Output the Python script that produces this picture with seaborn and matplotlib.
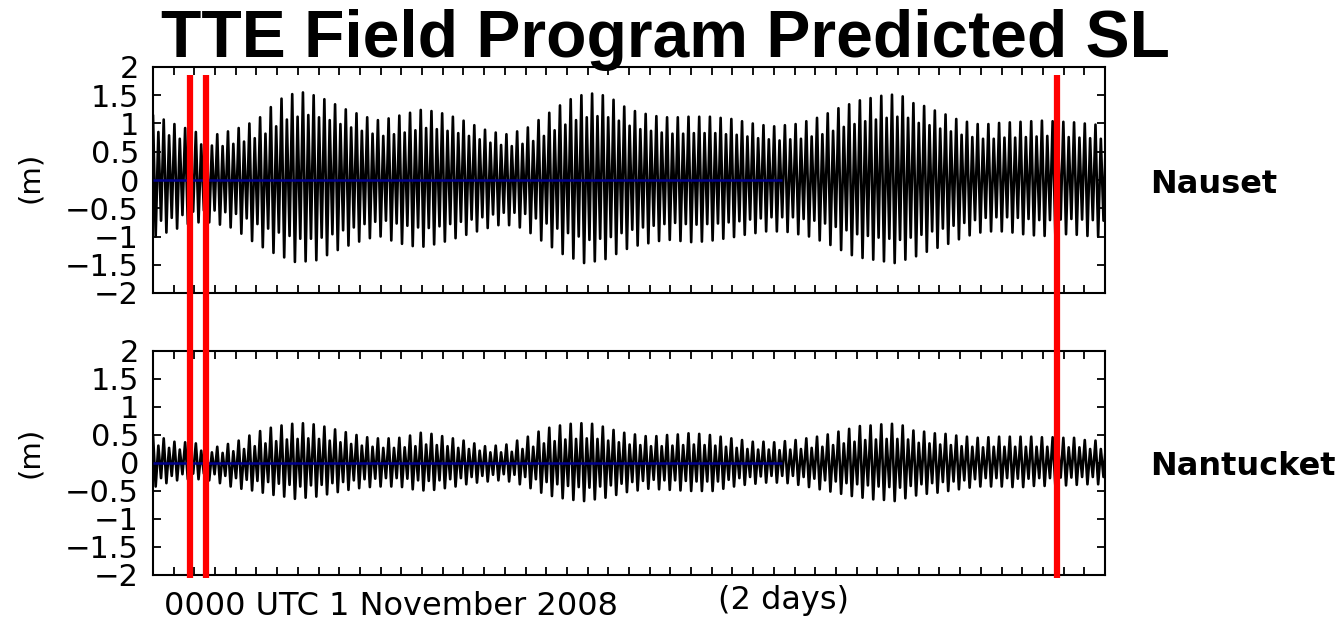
import numpy as np
import pandas as pd
import matplotlib
matplotlib.use("Agg")
import matplotlib.pyplot as plt
from matplotlib import transforms
from matplotlib.lines import Line2D
import seaborn as sns

# ---------------------------------------------------------------------------
# Predicted sea level (m): successive high waters and low waters, one of each
# per semidiurnal tidal cycle, starting 0000 UTC 1 November 2008.
# Highs/lows alternate between the larger and smaller tide of each tidal day.
# ---------------------------------------------------------------------------
tidal_cycle_days = 12.42 / 24.0

nauset_high = [
    1.15, 0.85, 1.07, 0.79, 0.99, 0.73, 0.92, 0.68, 0.85, 0.63,
    0.82, 0.61, 0.81, 0.60, 0.86, 0.64, 0.92, 0.68, 1.00, 0.74,
    1.11, 0.82, 1.29, 0.95, 1.44, 1.07, 1.52, 1.12, 1.55, 1.15,
    1.50, 1.11, 1.43, 1.06, 1.34, 0.99, 1.25, 0.93, 1.18, 0.87,
    1.11, 0.82, 1.06, 0.78, 1.09, 0.81, 1.14, 0.84, 1.19, 0.88,
    1.24, 0.92, 1.22, 0.90, 1.18, 0.87, 1.12, 0.83, 1.05, 0.78,
    0.97, 0.72, 0.89, 0.66, 0.84, 0.62, 0.81, 0.60, 0.86, 0.64,
    0.93, 0.69, 1.06, 0.78, 1.19, 0.88, 1.32, 0.98, 1.43, 1.06,
    1.50, 1.11, 1.53, 1.13, 1.50, 1.11, 1.42, 1.05, 1.30, 0.96,
    1.22, 0.90, 1.17, 0.87, 1.13, 0.84, 1.11, 0.82, 1.11, 0.82,
    1.12, 0.83, 1.12, 0.83, 1.12, 0.83, 1.10, 0.81, 1.08, 0.80,
    1.04, 0.77, 1.00, 0.74, 0.97, 0.72, 0.95, 0.70, 0.97, 0.72,
    0.99, 0.73, 1.04, 0.77, 1.10, 0.81, 1.18, 0.87, 1.27, 0.94,
    1.34, 0.99, 1.41, 1.04, 1.45, 1.07, 1.49, 1.10, 1.51, 1.12,
    1.48, 1.10, 1.36, 1.01, 1.31, 0.97, 1.23, 0.91, 1.16, 0.86,
    1.08, 0.80, 1.03, 0.76, 0.99, 0.73, 0.99, 0.73, 1.01, 0.75,
    1.02, 0.75, 1.03, 0.76, 1.04, 0.77, 1.05, 0.78, 1.04, 0.77,
    1.03, 0.76, 1.02, 0.75, 1.00, 0.74, 0.98, 0.73, 0.95, 0.70]

nauset_low = [
    -1.00, -0.72, -0.93, -0.67, -0.86, -0.62, -0.78, -0.56, -0.75, -0.54,
    -0.75, -0.54, -0.79, -0.57, -0.84, -0.60, -0.95, -0.68, -1.08, -0.78,
    -1.19, -0.86, -1.29, -0.93, -1.37, -0.99, -1.45, -1.04, -1.44, -1.04,
    -1.42, -1.02, -1.33, -0.96, -1.24, -0.89, -1.16, -0.84, -1.09, -0.78,
    -1.03, -0.74, -1.00, -0.72, -1.07, -0.77, -1.13, -0.81, -1.17, -0.84,
    -1.18, -0.85, -1.14, -0.82, -1.09, -0.78, -1.03, -0.74, -0.97, -0.70,
    -0.91, -0.66, -0.85, -0.61, -0.80, -0.58, -0.80, -0.58, -0.84, -0.60,
    -0.94, -0.68, -1.07, -0.77, -1.19, -0.86, -1.31, -0.94, -1.39, -1.00,
    -1.47, -1.06, -1.44, -1.04, -1.40, -1.01, -1.31, -0.94, -1.22, -0.88,
    -1.16, -0.84, -1.12, -0.81, -1.08, -0.78, -1.06, -0.76, -1.08, -0.78,
    -1.10, -0.79, -1.09, -0.78, -1.07, -0.77, -1.04, -0.75, -1.01, -0.73,
    -0.97, -0.70, -0.94, -0.68, -0.91, -0.66, -0.91, -0.66, -0.92, -0.66,
    -0.96, -0.69, -1.00, -0.72, -1.07, -0.77, -1.15, -0.83, -1.24, -0.89,
    -1.33, -0.96, -1.38, -0.99, -1.41, -1.02, -1.44, -1.04, -1.47, -1.06,
    -1.41, -1.02, -1.35, -0.97, -1.27, -0.91, -1.20, -0.86, -1.13, -0.81,
    -1.05, -0.76, -0.98, -0.71, -0.93, -0.67, -0.91, -0.66, -0.91, -0.66,
    -0.93, -0.67, -0.96, -0.69, -0.98, -0.71, -0.99, -0.71, -0.97, -0.70,
    -0.96, -0.69, -0.97, -0.70, -0.99, -0.71, -1.00, -0.72, -1.00, -0.72]

nantucket_high = [
    0.50, 0.31, 0.44, 0.27, 0.38, 0.24, 0.37, 0.23, 0.35, 0.22,
    0.31, 0.19, 0.29, 0.18, 0.34, 0.21, 0.40, 0.25, 0.49, 0.30,
    0.57, 0.35, 0.63, 0.39, 0.67, 0.42, 0.70, 0.43, 0.71, 0.44,
    0.69, 0.43, 0.65, 0.40, 0.60, 0.37, 0.55, 0.34, 0.50, 0.31,
    0.46, 0.29, 0.44, 0.27, 0.44, 0.27, 0.45, 0.28, 0.49, 0.30,
    0.54, 0.33, 0.52, 0.32, 0.48, 0.30, 0.44, 0.27, 0.40, 0.25,
    0.35, 0.22, 0.30, 0.19, 0.31, 0.19, 0.33, 0.20, 0.40, 0.25,
    0.47, 0.29, 0.56, 0.35, 0.63, 0.39, 0.67, 0.42, 0.70, 0.43,
    0.71, 0.44, 0.70, 0.43, 0.65, 0.40, 0.59, 0.37, 0.54, 0.33,
    0.51, 0.32, 0.48, 0.30, 0.48, 0.30, 0.50, 0.31, 0.51, 0.32,
    0.53, 0.33, 0.52, 0.32, 0.50, 0.31, 0.47, 0.29, 0.44, 0.27,
    0.41, 0.25, 0.38, 0.24, 0.38, 0.24, 0.37, 0.23, 0.39, 0.24,
    0.41, 0.25, 0.44, 0.27, 0.47, 0.29, 0.51, 0.32, 0.56, 0.35,
    0.61, 0.38, 0.66, 0.41, 0.67, 0.42, 0.69, 0.43, 0.70, 0.43,
    0.67, 0.42, 0.58, 0.36, 0.56, 0.35, 0.53, 0.33, 0.52, 0.32,
    0.49, 0.30, 0.47, 0.29, 0.45, 0.28, 0.46, 0.29, 0.47, 0.29,
    0.47, 0.29, 0.47, 0.29, 0.47, 0.29, 0.46, 0.29, 0.46, 0.29,
    0.45, 0.28, 0.45, 0.28, 0.41, 0.25, 0.40, 0.25, 0.40, 0.25]

nantucket_low = [
    -0.42, -0.27, -0.36, -0.23, -0.31, -0.20, -0.29, -0.19, -0.29, -0.19,
    -0.31, -0.20, -0.36, -0.23, -0.42, -0.27, -0.46, -0.30, -0.49, -0.32,
    -0.53, -0.34, -0.57, -0.37, -0.60, -0.39, -0.64, -0.42, -0.62, -0.40,
    -0.60, -0.39, -0.56, -0.36, -0.52, -0.34, -0.48, -0.31, -0.45, -0.29,
    -0.43, -0.28, -0.42, -0.27, -0.42, -0.27, -0.43, -0.28, -0.47, -0.31,
    -0.49, -0.32, -0.48, -0.31, -0.45, -0.29, -0.42, -0.27, -0.38, -0.25,
    -0.35, -0.23, -0.33, -0.21, -0.31, -0.20, -0.33, -0.21, -0.38, -0.25,
    -0.45, -0.29, -0.53, -0.34, -0.59, -0.38, -0.63, -0.41, -0.66, -0.43,
    -0.68, -0.44, -0.65, -0.42, -0.62, -0.40, -0.57, -0.37, -0.52, -0.34,
    -0.49, -0.32, -0.46, -0.30, -0.47, -0.31, -0.48, -0.31, -0.49, -0.32,
    -0.50, -0.33, -0.50, -0.33, -0.50, -0.33, -0.46, -0.30, -0.42, -0.27,
    -0.39, -0.25, -0.37, -0.24, -0.35, -0.23, -0.35, -0.23, -0.36, -0.23,
    -0.39, -0.25, -0.43, -0.28, -0.47, -0.31, -0.51, -0.33, -0.55, -0.36,
    -0.59, -0.38, -0.62, -0.40, -0.65, -0.42, -0.66, -0.43, -0.68, -0.44,
    -0.63, -0.41, -0.58, -0.38, -0.55, -0.36, -0.53, -0.34, -0.50, -0.33,
    -0.47, -0.31, -0.44, -0.29, -0.42, -0.27, -0.42, -0.27, -0.42, -0.27,
    -0.43, -0.28, -0.43, -0.28, -0.41, -0.27, -0.41, -0.27, -0.40, -0.26,
    -0.40, -0.26, -0.39, -0.25, -0.38, -0.25, -0.38, -0.25, -0.38, -0.25]

stations = ["Nauset", "Nantucket"]

# Plot window in days after 0000 UTC 1 Nov 2008 (ticks every 2 days)
x_range_days = (0, 92)
day_ticks = list(range(2, 92, 2))
level_ticks = [-2, -1.5, -1, -0.5, 0, 0.5, 1, 1.5, 2]
level_ticklabels = ["\u22122", "\u22121.5", "\u22121", "\u22120.5", "0",
                    "0.5", "1", "1.5", "2"]
zero_line_end_day = 60.8
field_marks_days = [3.6, 5.14, 87.4]


def tide_frame(highs, lows):
    n = len(highs)
    t_high = np.arange(n) * tidal_cycle_days
    t_low = t_high + tidal_cycle_days / 2.0
    day = np.empty(2 * n)
    level = np.empty(2 * n)
    day[0::2], day[1::2] = t_high, t_low
    level[0::2], level[1::2] = highs, lows
    return pd.DataFrame({"day": day, "level": level})


sns.set_style("ticks")
plt.rcParams["font.family"] = ["DejaVu Sans"]
plt.rcParams["text.color"] = "black"
plt.rcParams["axes.labelcolor"] = "black"
plt.rcParams["xtick.color"] = "black"
plt.rcParams["ytick.color"] = "black"

W, H = 1344, 620
fig = plt.figure(figsize=(W / 100, H / 100), dpi=100)
fig.patch.set_facecolor("white")


def px_axes(left, top, right, bottom):
    return [left / W, 1 - bottom / H, (right - left) / W, (bottom - top) / H]


ax1 = fig.add_axes(px_axes(153, 67, 1105, 293))
ax2 = fig.add_axes(px_axes(153, 351, 1105, 575))

series = [tide_frame(nauset_high, nauset_low),
          tide_frame(nantucket_high, nantucket_low)]

for ax, df in zip([ax1, ax2], series):
    sns.lineplot(data=df, x="day", y="level", ax=ax, color="black",
                 lw=1.9, estimator=None, sort=False)
    ax.hlines(0, x_range_days[0], zero_line_end_day, color="#00008c",
              lw=1.8, zorder=5)
    ax.set_xlim(*x_range_days)
    ax.set_ylim(-2, 2)
    ax.set_xticks(day_ticks)
    ax.set_yticks(level_ticks)
    ax.set_yticklabels(level_ticklabels)
    ax.set_xlabel("")
    ax.set_ylabel("")
    ax.tick_params(axis="x", direction="in", top=True, bottom=True,
                   length=6, width=1.3, color="black", labelbottom=False)
    ax.tick_params(axis="y", direction="in", left=True, right=True,
                   length=6, width=1.3, color="black", labelsize=22,
                   labelcolor="black", pad=10)
    for sp in ax.spines.values():
        sp.set_visible(True)
        sp.set_color("black")
        sp.set_linewidth(1.5)

# Vertical field-program markers spanning both panels
trans = transforms.blended_transform_factory(ax1.transData, fig.transFigure)
for x in field_marks_days:
    fig.add_artist(Line2D([x, x], [1 - 75 / H, 1 - 578 / H], transform=trans,
                          color="red", lw=4.5, zorder=20,
                          solid_capstyle="butt"))

fig.text(665 / W, 1 - 57 / H, "TTE Field Program Predicted SL",
         ha="center", va="baseline", fontsize=47.5, fontweight="bold",
         family="Liberation Sans", color="black")

fig.text(30 / W, 1 - 177 / H, "(m)", rotation=90, ha="center", va="center",
         fontsize=21, color="black")
fig.text(30 / W, 1 - 452 / H, "(m)", rotation=90, ha="center", va="center",
         fontsize=21, color="black")

fig.text(1150 / W, 1 - 193 / H, stations[0], ha="left", va="baseline",
         fontsize=23, fontweight="bold", color="black")
fig.text(1150 / W, 1 - 475 / H, stations[1], ha="left", va="baseline",
         fontsize=23, fontweight="bold", color="black")

fig.text(164 / W, 1 - 615 / H, "0000 UTC 1 November 2008", ha="left",
         va="baseline", fontsize=23, color="black")
fig.text(783 / W, 1 - 609 / H, "(2 days)", ha="center", va="baseline",
         fontsize=23, color="black")

fig.savefig("out.png", dpi=100, facecolor="white")
